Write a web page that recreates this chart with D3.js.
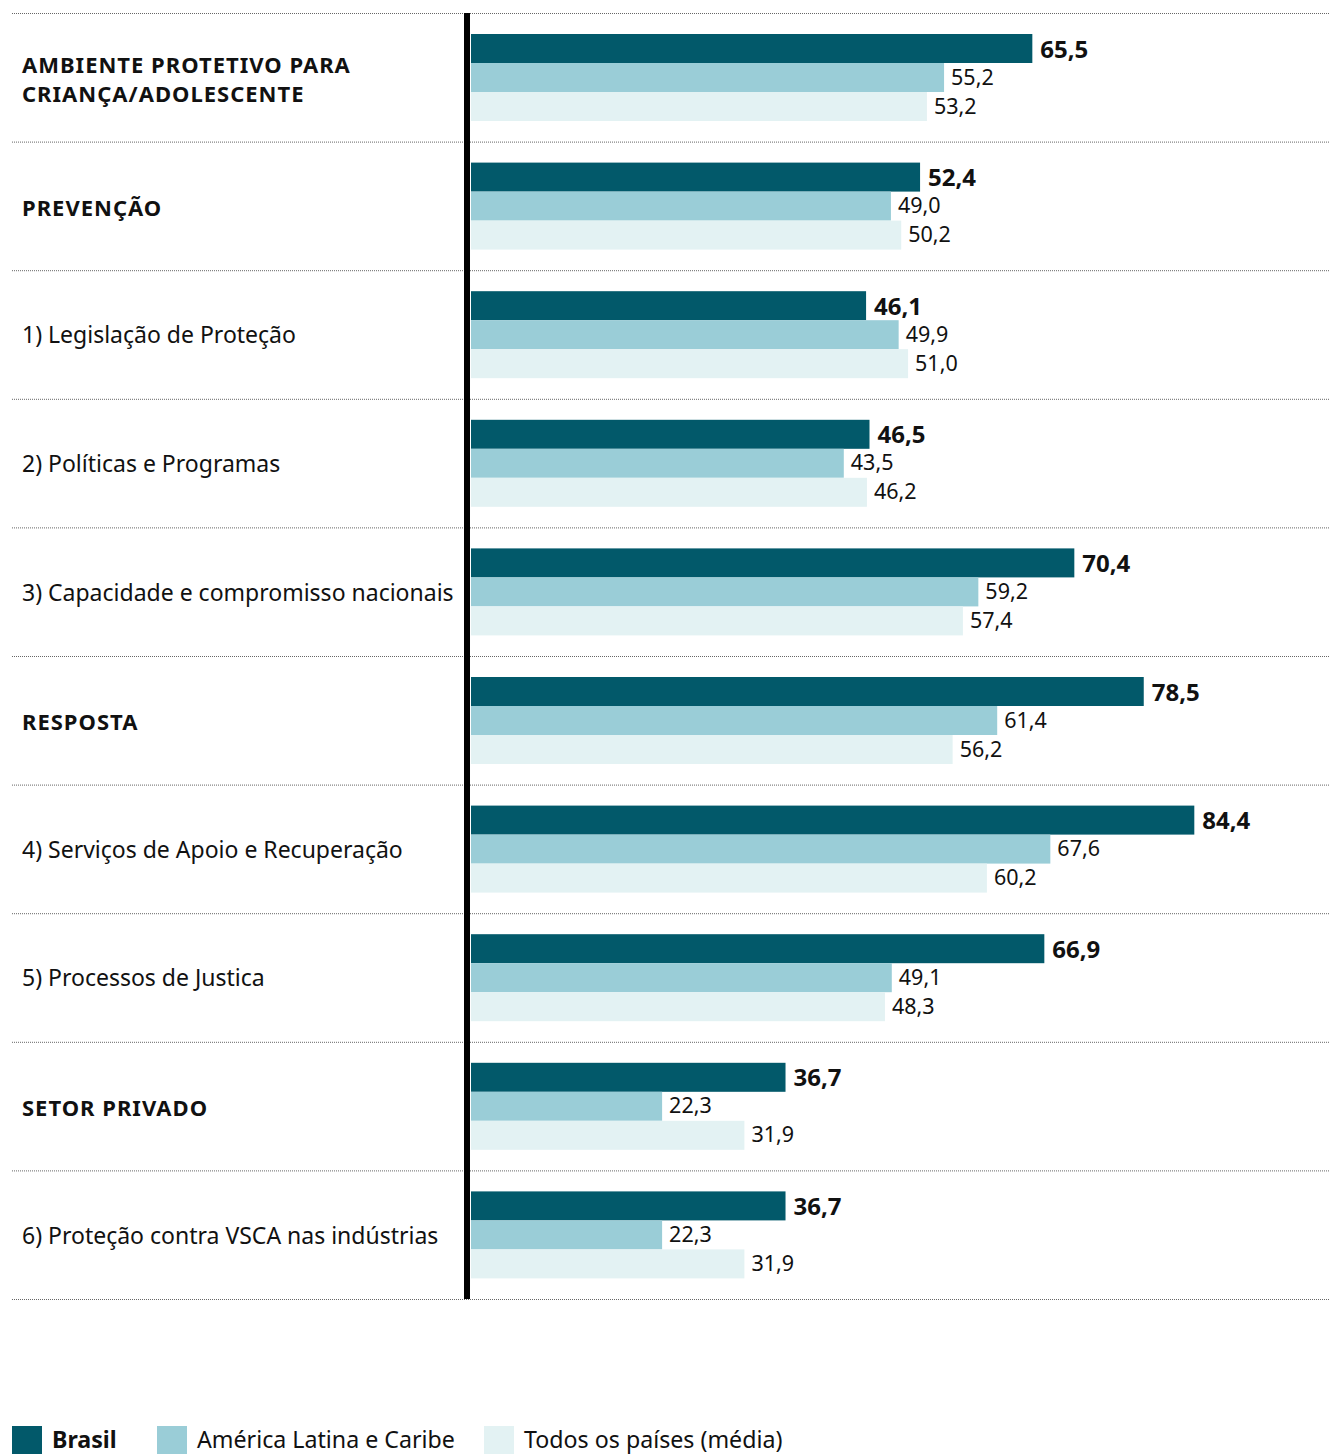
<!DOCTYPE html>
<html><head><meta charset="utf-8">
<script src="https://cdn.jsdelivr.net/npm/d3@7"></script>
<style>
body{margin:0;background:#fff;}
svg text{font-family:"Noto Sans",sans-serif;}
</style></head>
<body><svg id="chart" width="1330" height="1454"></svg>
<script>
const categories = ["AMBIENTE PROTETIVO PARA|CRIANÇA/ADOLESCENTE","PREVENÇÃO","1) Legislação de Proteção","2) Políticas e Programas","3) Capacidade e compromisso nacionais","RESPOSTA","4) Serviços de Apoio e Recuperação","5) Processos de Justica","SETOR PRIVADO","6) Proteção contra VSCA nas indústrias"];
const headerRows = [true,true,false,false,false,true,false,false,true,false];
const series = ["Brasil","América Latina e Caribe","Todos os países (média)"];
const brasil = [65.5,52.4,46.1,46.5,70.4,78.5,84.4,66.9,36.7,36.7];
const alc = [55.2,49.0,49.9,43.5,59.2,61.4,67.6,49.1,22.3,22.3];
const todos = [53.2,50.2,51.0,46.2,57.4,56.2,60.2,48.3,31.9,31.9];
const colors = ["#02596a","#9acdd7","#e3f2f3"];

const svg = d3.select("#chart");
const x = d3.scaleLinear().domain([0,100]).range([471,1328]);
const y = d3.scaleBand().domain(categories).range([13,1299]).padding(0);
const ys = d3.scaleBand().domain(series).range([21,108]).padding(0);
const fmt = v => d3.format(".1f")(v).replace(".",",");
const valuesBySeries = [brasil, alc, todos];

// separators
const seps = categories.map(c=>y(c)).concat([y.range()[1]]);
svg.selectAll("line.sep").data(seps).join("line")
  .attr("x1",12).attr("x2",1330).attr("y1",d=>d+0.5).attr("y2",d=>d+0.5)
  .attr("stroke","#666").attr("stroke-width",1).attr("stroke-dasharray","1,1");

const rows = svg.selectAll("g.row").data(categories).join("g")
  .attr("transform",c=>`translate(0,${y(c)})`);

rows.each(function(c,i){
  const g = d3.select(this);
  const parts = c.split("|");
  const t = g.append("text").attr("x",22)
    .attr("font-size", headerRows[i]?22:23)
    .attr("font-weight", headerRows[i]?700:400)
    .attr("letter-spacing", headerRows[i]?"1px":"0px")
    .attr("fill","#111");
  const mid = y.bandwidth()/2;
  parts.forEach((p,k)=>{
    t.append("tspan").attr("x",22)
      .attr("y", mid + (k-(parts.length-1)/2)*29 + (headerRows[i]?10:9))
      .text(p);
  });
  series.forEach((s,si)=>{
    const v = valuesBySeries[si][i];
    g.append("rect").attr("x",x(0)).attr("y",ys(s))
      .attr("width",x(v)-x(0)).attr("height",ys.bandwidth())
      .attr("fill",colors[si]);
    g.append("text").attr("x",x(v)+ (si===0?8:7))
      .attr("y",ys(s)+ys.bandwidth()/2 + (si===0?9:7))
      .attr("font-size", si===0?24:21.5)
      .attr("font-weight", si===0?700:400)
      .attr("fill","#111")
      .text(fmt(v));
  });
});

// axis line
svg.append("line").attr("x1",467).attr("x2",467).attr("y1",13).attr("y2",1299)
  .attr("stroke","#000").attr("stroke-width",6);

// legend
const legX = [12,157,484];
series.forEach((s,i)=>{
  svg.append("rect").attr("x",legX[i]).attr("y",1426).attr("width",30).attr("height",28).attr("fill",colors[i]);
  svg.append("text").attr("x",legX[i]+40).attr("y",1448)
    .attr("font-size",23.2).attr("font-weight",i===0?700:400).attr("fill","#111").text(s);
});
</script></body></html>
